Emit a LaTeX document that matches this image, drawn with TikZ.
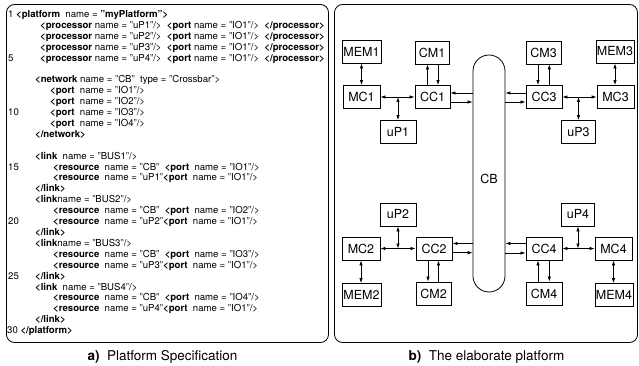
\documentclass[tikz,border=0pt]{standalone}
\usepackage{fontspec}
\setmainfont{TeX Gyre Heros}
\usetikzlibrary{arrows.meta,calc}
\tikzset{
  box/.style={draw, line width=0.8pt, minimum height=23pt, inner sep=0pt, font=\fontsize{12.5}{14}\selectfont},
  arr/.style={line width=0.7pt, -{Latex[length=5pt,width=3.4pt]}},
  darr/.style={line width=0.7pt, {Latex[length=5pt,width=3.4pt]}-{Latex[length=5pt,width=3.4pt]}},
  code/.style={anchor=base west, inner sep=0pt, font=\fontsize{9.6}{11}\selectfont},
  panel/.style={draw, line width=0.8pt, rounded corners=8pt},
  caption/.style={inner sep=0pt, font=\fontsize{13.5}{15}\selectfont}
}
\begin{document}
\begin{tikzpicture}[x=1pt,y=-1pt]
\useasboundingbox (0,0) rectangle (639,366);
% panels
\draw[panel] (6.5,4.5) rectangle (328.5,342.5);
\draw[panel] (334.5,4.5) rectangle (637.5,342.5);
% ---------- listing ----------
\def\L#1{\fpeval{14+(#1-1)*10.9+3.5}}
\node[code] (l1) at (8,{\L{1}}) {1 \textbf{<platform}\ \ name = \textbf{"myPlatform">}};
\node[code] (l2) at (40,{\L{2}}) {\textbf{<processor} name = "uP1"/>\ \ \textbf{<port} name = "IO1"/>\ \ \textbf{</processor>}};
\node[code] (l3) at (40,{\L{3}}) {\textbf{<processor} name = "uP2"/>\ \ \textbf{<port} name = "IO1"/>\ \ \textbf{</processor>}};
\node[code] (l4) at (40,{\L{4}}) {\textbf{<processor} name = "uP3"/>\ \ \textbf{<port} name = "IO1"/>\ \ \textbf{</processor>}};
\node[code] (n5) at (8,{\L{5}}) {5};
\node[code] (l5) at (40,{\L{5}}) {\textbf{<processor} name = "uP4"/>\ \ \textbf{<port} name = "IO1"/>\ \ \textbf{</processor>}};
\node[code] (l7) at (35,{\L{7}}) {\textbf{<network} name = "CB"\ \ type = "Crossbar">};
\node[code] (l8) at (50,{\L{8}}) {\textbf{<port}\ \ name = "IO1"/>};
\node[code] (l9) at (50,{\L{9}}) {\textbf{<port}\ \ name = "IO2"/>};
\node[code] (n10) at (8,{\L{10}}) {10};
\node[code] (l10) at (50,{\L{10}}) {\textbf{<port}\ \ name = "IO3"/>};
\node[code] (l11) at (50,{\L{11}}) {\textbf{<port}\ \ name = "IO4"/>};
\node[code] (l12) at (35,{\L{12}}) {\textbf{</network>}};
\node[code] (l14) at (35,{\L{14}}) {\textbf{<link}\ \ name = "BUS1"/>};
\node[code] (n15) at (8,{\L{15}}) {15};
\node[code] (l15) at (53,{\L{15}}) {\textbf{<resource}\ \ name = "CB"\ \ \textbf{<port}\ \ name = "IO1"/>};
\node[code] (l16) at (53,{\L{16}}) {\textbf{<resource}\ \ name = "uP1"\textbf{<port}\ \ name = "IO1"/>};
\node[code] (l17) at (35,{\L{17}}) {\textbf{</link>}};
\node[code] (l18) at (35,{\L{18}}) {\textbf{<link}name = "BUS2"/>};
\node[code] (l19) at (53,{\L{19}}) {\textbf{<resource}\ \ name = "CB"\ \ \textbf{<port}\ \ name = "IO2"/>};
\node[code] (n20) at (8,{\L{20}}) {20};
\node[code] (l20) at (53,{\L{20}}) {\textbf{<resource}\ \ name = "uP2"\textbf{<port}\ \ name = "IO1"/>};
\node[code] (l21) at (35,{\L{21}}) {\textbf{</link>}};
\node[code] (l22) at (35,{\L{22}}) {\textbf{<link}name = "BUS3"/>};
\node[code] (l23) at (53,{\L{23}}) {\textbf{<resource}\ \ name = "CB"\ \ \textbf{<port}\ \ name = "IO3"/>};
\node[code] (l24) at (53,{\L{24}}) {\textbf{<resource}\ \ name = "uP3"\textbf{<port}\ \ name = "IO1"/>};
\node[code] (n25) at (8,{\L{25}}) {25};
\node[code] (l25) at (35,{\L{25}}) {\textbf{</link>}};
\node[code] (l26) at (35,{\L{26}}) {\textbf{<link}\ \ name = "BUS4"/>};
\node[code] (l27) at (53,{\L{27}}) {\textbf{<resource}\ \ name = "CB"\ \ \textbf{<port}\ \ name = "IO4"/>};
\node[code] (l28) at (53,{\L{28}}) {\textbf{<resource}\ \ name = "uP4"\textbf{<port}\ \ name = "IO1"/>};
\node[code] (l29) at (35,{\L{29}}) {\textbf{</link>}};
\node[code] (l30) at (7,{\L{30}}) {30 \textbf{</platform>}};
% ---------- platform ----------
\node[draw, line width=0.8pt, rounded corners=16pt, minimum width=32pt, minimum height=237pt, inner sep=0pt] (CB) at (489,173.5) {};
\node[font=\fontsize{12.5}{14}\selectfont, inner sep=0pt] (CBt) at (489,179) {CB};
\node[box, minimum width=39pt] (MEM1) at (361.5,51.5) {MEM1};
\node[box, minimum width=34pt] (CM1) at (432,52.5) {CM1};
\node[box, minimum width=37pt] (MC1) at (361.5,97) {MC1};
\node[box, minimum width=35pt] (CC1) at (432.5,97) {CC1};
\node[box, minimum width=36pt] (uP1) at (398,132) {uP1};
\node[box, minimum width=35pt] (CM3) at (543.5,52.5) {CM3};
\node[box, minimum width=38pt] (MEM3) at (615,51.5) {MEM3};
\node[box, minimum width=36pt] (CC3) at (544,97) {CC3};
\node[box, minimum width=37pt] (MC3) at (615.5,97) {MC3};
\node[box, minimum width=34pt] (uP3) at (578.5,132) {uP3};
\node[box, minimum width=36pt] (uP2) at (398,214.5) {uP2};
\node[box, minimum width=38pt] (MC2) at (361,248.5) {MC2};
\node[box, minimum width=36pt] (CC2) at (434,248.5) {CC2};
\node[box, minimum width=39pt] (MEM2) at (361.5,295) {MEM2};
\node[box, minimum width=35pt] (CM2) at (433.5,293.5) {CM2};
\node[box, minimum width=33pt] (uP4) at (578,214.5) {uP4};
\node[box, minimum width=36pt] (CC4) at (544,248.5) {CC4};
\node[box, minimum width=37pt] (MC4) at (613.5,248.5) {MC4};
\node[box, minimum width=36pt] (CM4) at (544,293.5) {CM4};
\node[box, minimum width=38pt] (MEM4) at (614,295) {MEM4};
% quadrant 1
\coordinate (c1u) at ([yshift=4pt]CC1.east);
\coordinate (c1d) at ([yshift=-5pt]CC1.east);
\draw[arr] (c1u -| CB.west) -- (c1u);
\draw[arr] (c1d) -- (c1d -| CB.west);
\coordinate (m1a) at ([xshift=-5pt]CC1.north);
\coordinate (m1b) at ([xshift=5.5pt]CC1.north);
\draw[arr] (m1a) -- (m1a |- CM1.south);
\draw[arr] (m1b |- CM1.south) -- (m1b);
\draw[darr] (MC1.east) -- (CC1.west);
\coordinate (j1) at (uP1.north |- MC1.east);
\draw[darr] (j1) -- (uP1.north);
\draw[darr] (MEM1.south) -- (MC1.north);
% quadrant 3
\coordinate (c3u) at ([yshift=4pt]CC3.west);
\coordinate (c3d) at ([yshift=-5pt]CC3.west);
\draw[arr] (c3u) -- (c3u -| CB.east);
\draw[arr] (c3d -| CB.east) -- (c3d);
\coordinate (m3a) at ([xshift=-6pt]CC3.north);
\coordinate (m3b) at ([xshift=5.3pt]CC3.north);
\draw[arr] (m3a |- CM3.south) -- (m3a);
\draw[arr] (m3b) -- (m3b |- CM3.south);
\draw[darr] (CC3.east) -- (MC3.west);
\coordinate (j3) at (uP3.north |- CC3.east);
\draw[darr] (j3) -- (uP3.north);
\draw[darr] (MEM3.south) -- (MEM3.south |- MC3.north);
% quadrant 2
\coordinate (c2u) at ([yshift=5pt]CC2.east);
\coordinate (c2d) at ([yshift=-4.2pt]CC2.east);
\draw[arr] (c2u -| CB.west) -- (c2u);
\draw[arr] (c2d) -- (c2d -| CB.west);
\coordinate (m2a) at ([xshift=-6pt]CC2.south);
\coordinate (m2b) at ([xshift=4.5pt]CC2.south);
\draw[arr] (m2a) -- (m2a |- CM2.north);
\draw[arr] (m2b |- CM2.north) -- (m2b);
\draw[darr] (MC2.east) -- (CC2.west);
\coordinate (j2) at (uP2.south |- MC2.east);
\draw[darr] (j2) -- (uP2.south);
\draw[darr] (MC2.south) -- (MC2.south |- MEM2.north);
% quadrant 4
\coordinate (c4u) at ([yshift=5pt]CC4.west);
\coordinate (c4d) at ([yshift=-4.5pt]CC4.west);
\draw[arr] (c4u) -- (c4u -| CB.east);
\draw[arr] (c4d -| CB.east) -- (c4d);
\coordinate (m4a) at ([xshift=-6pt]CC4.south);
\coordinate (m4b) at ([xshift=5.3pt]CC4.south);
\draw[arr] (m4a |- CM4.north) -- (m4a);
\draw[arr] (m4b) -- (m4b |- CM4.north);
\draw[darr] (CC4.east) -- (MC4.west);
\coordinate (j4) at (uP4.south |- CC4.east);
\draw[darr] (j4) -- (uP4.south);
\draw[darr] (MC4.south) -- (MC4.south |- MEM4.north);
% captions
\node[caption] (capa) at (162.5,357) {\textbf{a)}\ \ Platform Specification};
\node[caption] (capb) at (486.5,357) {\textbf{b)}\ \ The elaborate platform};
\end{tikzpicture}
\end{document}
